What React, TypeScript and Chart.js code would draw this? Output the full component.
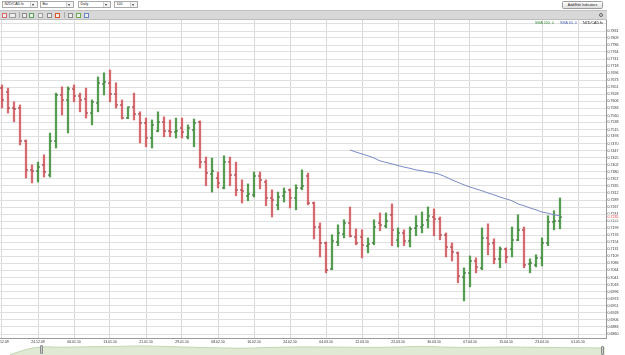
import React, { useEffect, useRef } from "react";
import { Chart, registerables } from "chart.js";
Chart.register(...registerables);

// ---------------- DATA ----------------
const opens = [
  0.7648, 0.7636, 0.7584, 0.7584, 0.7479, 0.7386, 0.7383, 0.7402, 0.7370, 0.7479,
  0.7626, 0.7610, 0.7645, 0.7623, 0.7613, 0.7568, 0.7600, 0.7661, 0.7665, 0.7629,
  0.7594, 0.7552, 0.7588, 0.7565, 0.7536, 0.7488, 0.7511, 0.7540, 0.7511, 0.7508,
  0.7520, 0.7492, 0.7514, 0.7540, 0.7411, 0.7373, 0.7360, 0.7328, 0.7411, 0.7370,
  0.7322, 0.7303, 0.7306, 0.7367, 0.7347, 0.7296, 0.7274, 0.7303, 0.7322, 0.7296,
  0.7328, 0.7367, 0.7280, 0.7203, 0.7152, 0.7069, 0.7155, 0.7181, 0.7216, 0.7171,
  0.7171, 0.7143, 0.7152, 0.7216, 0.7207, 0.7242, 0.7162, 0.7184, 0.7159, 0.7200,
  0.7203, 0.7226, 0.7235, 0.7229, 0.7178, 0.7139, 0.7120, 0.7043, 0.7056, 0.7094,
  0.7072, 0.7168, 0.7152, 0.7101, 0.7133, 0.7133, 0.7162, 0.7194, 0.7085, 0.7082,
  0.7104, 0.7152, 0.7219, 0.7223,
];
const highs = [
  0.7658, 0.7648, 0.7604, 0.7594, 0.7482, 0.7402, 0.7411, 0.7434, 0.7504, 0.7632,
  0.7652, 0.7652, 0.7658, 0.7632, 0.7648, 0.7610, 0.7684, 0.7697, 0.7706, 0.7665,
  0.7610, 0.7588, 0.7632, 0.7572, 0.7552, 0.7546, 0.7572, 0.7556, 0.7546, 0.7552,
  0.7552, 0.7530, 0.7549, 0.7543, 0.7427, 0.7424, 0.7379, 0.7431, 0.7427, 0.7411,
  0.7354, 0.7341, 0.7379, 0.7379, 0.7354, 0.7322, 0.7315, 0.7328, 0.7325, 0.7338,
  0.7386, 0.7376, 0.7283, 0.7216, 0.7155, 0.7178, 0.7210, 0.7226, 0.7267, 0.7197,
  0.7194, 0.7168, 0.7226, 0.7248, 0.7248, 0.7277, 0.7200, 0.7194, 0.7203, 0.7239,
  0.7251, 0.7267, 0.7261, 0.7235, 0.7184, 0.7152, 0.7123, 0.7072, 0.7110, 0.7104,
  0.7200, 0.7213, 0.7165, 0.7139, 0.7136, 0.7203, 0.7242, 0.7203, 0.7101, 0.7114,
  0.7168, 0.7239, 0.7255, 0.7296,
];
const lows = [
  0.7584, 0.7568, 0.7540, 0.7466, 0.7360, 0.7344, 0.7347, 0.7363, 0.7363, 0.7456,
  0.7562, 0.7504, 0.7604, 0.7572, 0.7552, 0.7530, 0.7572, 0.7626, 0.7604, 0.7584,
  0.7549, 0.7550, 0.7546, 0.7472, 0.7460, 0.7456, 0.7508, 0.7492, 0.7492, 0.7488,
  0.7488, 0.7485, 0.7460, 0.7392, 0.7335, 0.7315, 0.7328, 0.7325, 0.7335, 0.7303,
  0.7280, 0.7287, 0.7299, 0.7325, 0.7271, 0.7235, 0.7258, 0.7283, 0.7264, 0.7258,
  0.7322, 0.7274, 0.7165, 0.7107, 0.7056, 0.7066, 0.7143, 0.7168, 0.7171, 0.7146,
  0.7104, 0.7120, 0.7146, 0.7191, 0.7200, 0.7143, 0.7139, 0.7143, 0.7139, 0.7175,
  0.7184, 0.7200, 0.7175, 0.7162, 0.7107, 0.7094, 0.7024, 0.6966, 0.7011, 0.7056,
  0.7066, 0.7114, 0.7085, 0.7072, 0.7088, 0.7107, 0.7159, 0.7072, 0.7056, 0.7075,
  0.7078, 0.7143, 0.7194, 0.7197,
];
const closes = [
  0.7610, 0.7584, 0.7581, 0.7479, 0.7386, 0.7383, 0.7395, 0.7379, 0.7479, 0.7626,
  0.7610, 0.7645, 0.7623, 0.7610, 0.7568, 0.7604, 0.7665, 0.7668, 0.7629, 0.7594,
  0.7552, 0.7588, 0.7565, 0.7536, 0.7488, 0.7530, 0.7540, 0.7511, 0.7508, 0.7511,
  0.7508, 0.7520, 0.7536, 0.7411, 0.7376, 0.7383, 0.7344, 0.7411, 0.7370, 0.7322,
  0.7319, 0.7309, 0.7367, 0.7354, 0.7296, 0.7290, 0.7299, 0.7315, 0.7296, 0.7328,
  0.7335, 0.7280, 0.7203, 0.7152, 0.7066, 0.7159, 0.7184, 0.7216, 0.7175, 0.7152,
  0.7146, 0.7149, 0.7203, 0.7210, 0.7223, 0.7194, 0.7184, 0.7159, 0.7197, 0.7207,
  0.7210, 0.7239, 0.7229, 0.7178, 0.7139, 0.7123, 0.7046, 0.7056, 0.7094, 0.7075,
  0.7168, 0.7149, 0.7101, 0.7133, 0.7107, 0.7162, 0.7194, 0.7082, 0.7088, 0.7104,
  0.7152, 0.7219, 0.7223, 0.7235,
];
// SMA 60 line, starting at bar index smaStart
const smaStart = 58;
const sma60 = [
  0.7450, 0.7443, 0.7437, 0.7431, 0.7424, 0.7415, 0.7410, 0.7405, 0.7400, 0.7395,
  0.7391, 0.7386, 0.7383, 0.7379, 0.7376, 0.7371, 0.7363, 0.7354, 0.7346, 0.7338,
  0.7331, 0.7325, 0.7319, 0.7312, 0.7306, 0.7299, 0.7293, 0.7287, 0.7277, 0.7271,
  0.7264, 0.7258, 0.7251, 0.7247, 0.7242, 0.7239,
];
// date labels, one every `labelEvery` bars starting at bar 0
const labelEvery = 6;
const dateLabels = [
  "16.12.09", "24.12.09", "06.01.10", "13.01.10", "21.01.10", "29.01.10", "08.02.10",
  "16.02.10", "24.02.10", "04.03.10", "12.03.10", "22.03.10", "30.03.10", "07.04.10",
  "15.04.10", "23.04.10", "01.05.10",
];
const yTickValues = [
  0.7854, 0.7831, 0.7809, 0.7786, 0.7764, 0.7741, 0.7718, 0.7696, 0.7673, 0.7651, 0.7628,
  0.7606, 0.7583, 0.7560, 0.7538, 0.7515, 0.7493, 0.7470, 0.7447, 0.7425, 0.7402,
  0.7380, 0.7357, 0.7335, 0.7312, 0.7289, 0.7267, 0.7244, 0.7222, 0.7199, 0.7176,
  0.7154, 0.7131, 0.7109, 0.7086, 0.7064, 0.7041, 0.7018, 0.6996, 0.6973, 0.6951,
  0.6928, 0.6906, 0.6883, 0.6860,
];
const yTickLabels = yTickValues.map((v, i) => (i === 0 ? "" : v.toFixed(4)));
const navigatorValues = [
  0.5, 7.5, 7.8, 8.2, 8.5, 9, 8.5, 7.8, 7.2, 6.8, 7.5, 8, 8, 7.8, 7.6, 8, 8.5, 7.8,
  7.6, 8, 7.8, 7.5, 7.2, 7,
];

const Y_MIN = 0.68472;
const Y_MAX = 0.78663;
const X_MIN = -1 / 3;
const X_MAX = 100 + 2 / 3;

const UP = "rgba(58,140,50,0.85)";
const DOWN = "rgba(205,70,76,0.8)";
const UP_TICK = "#245a22";
const DOWN_TICK = "#8a2226";
const FONT = "'Liberation Sans', Arial, sans-serif";

const ohlcPlugin = {
  id: "ohlcTicks",
  afterDatasetsDraw(chart: any) {
    const { ctx } = chart;
    const x = chart.scales.x;
    const y = chart.scales.y;
    ctx.save();
    closes.forEach((c, i) => {
      const px = Math.round(x.getPixelForValue(i));
      const up = c >= opens[i];
      ctx.fillStyle = up ? UP_TICK : DOWN_TICK;
      const yo = Math.round(y.getPixelForValue(opens[i]));
      const yc = Math.round(y.getPixelForValue(c));
      ctx.fillRect(px - 2, yo - 0.5, 1.5, 1);
      ctx.fillRect(px + 0.5, yc - 0.5, 1.5, 1);
    });
    ctx.restore();
  },
  afterDraw(chart: any) {
    const { ctx, chartArea } = chart;
    const y = chart.scales.y;
    ctx.save();
    // legend
    ctx.font = `3.6px ${FONT}`;
    ctx.textBaseline = "middle";
    ctx.textAlign = "left";
    ctx.fillStyle = "#3a8a3a";
    ctx.fillText("SMA 200, 0", 535, chartArea.top + 2.5);
    ctx.fillStyle = "#4d63b0";
    ctx.fillText("SMA 60, 0", 560, chartArea.top + 2.5);
    ctx.fillStyle = "#222";
    ctx.fillText("NZD/CAD.fx", 583, chartArea.top + 2.5);
    // last price label
    const last = closes[closes.length - 1];
    const py = y.getPixelForValue(last);
    ctx.fillStyle = "#fff";
    ctx.fillRect(y.left + 1, py - 2.5, 18, 5);
    ctx.fillStyle = "#e0353a";
    ctx.fillText(last.toFixed(4), y.left + 1.5, py);
    ctx.restore();
  },
};

function Select({ left, width, text }: { left: number; width: number; text: string }) {
  return (
    <div
      style={{
        position: "absolute",
        left,
        top: 1,
        width,
        height: 7,
        border: "1px solid #a9a9a9",
        boxSizing: "border-box",
        background: "#fff",
        fontSize: 3.5,
        lineHeight: "5px",
        fontFamily: FONT,
        color: "#222",
        overflow: "hidden",
      }}
    >
      <span style={{ position: "absolute", left: 1.5, top: 0, whiteSpace: "nowrap" }}>{text}</span>
      <div
        style={{
          position: "absolute",
          right: 0,
          top: 0,
          width: 6,
          height: 5,
          borderLeft: "1px solid #cfcfcf",
          background: "#f4f4f4",
        }}
      >
        <div
          style={{
            position: "absolute",
            left: 1.2,
            top: 1.5,
            width: 0,
            height: 0,
            borderTop: "2px solid #333",
            borderLeft: "1.5px solid transparent",
            borderRight: "1.5px solid transparent",
          }}
        />
      </div>
    </div>
  );
}

const icons = [
  { l: 2, c: "#d46a6a" },
  { l: 9, c: "#9a9a9a", w: 7 },
  { l: 22, c: "#8c8c8c" },
  { l: 29, c: "#5aa05a" },
  { l: 38, c: "#a0a0a0" },
  { l: 47, c: "#8a8a8a" },
  { l: 55, c: "#d9542b" },
  { l: 68, c: "#8a8a8a" },
  { l: 76, c: "#6cab4b" },
  { l: 84, c: "#6a84c8" },
];

export default function App() {
  const mainRef = useRef<HTMLCanvasElement>(null);
  const navRef = useRef<HTMLCanvasElement>(null);

  useEffect(() => {
    const idx = closes.map((_, i) => i);
    const rangeData = idx.map((i) => ({ x: i, y: [lows[i], highs[i]] }));
    const colors = idx.map((i) => (closes[i] >= opens[i] ? UP : DOWN));
    const smaData = sma60.map((v, k) => ({ x: smaStart + k, y: v }));

    const chart = new Chart(mainRef.current!, {
      type: "bar",
      data: {
        datasets: [
          {
            type: "line",
            data: smaData as any,
            borderColor: "#7b8ac4",
            borderWidth: 1,
            pointRadius: 0,
            tension: 0.4,
            fill: false,
            order: 1,
          } as any,
          {
            type: "bar",
            data: rangeData as any,
            backgroundColor: colors,
            borderWidth: 0,
            barThickness: 1.6,
            grouped: false,
            order: 2,
          } as any,
        ],
      },
      options: {
        animation: false,
        responsive: false,
        events: [],
        layout: { padding: 0, autoPadding: false } as any,
        plugins: { legend: { display: false }, tooltip: { enabled: false } },
        scales: {
          x: {
            type: "linear",
            min: X_MIN,
            max: X_MAX,
            offset: false,
            afterBuildTicks: (s: any) => {
              s.ticks = dateLabels.map((_, k) => ({ value: k * labelEvery }));
            },
            afterFit: (s: any) => {
              s.height = 17;
              s.paddingLeft = 0;
              s.paddingRight = 0;
            },
            ticks: {
              autoSkip: false,
              maxRotation: 0,
              minRotation: 0,
              padding: 1.5,
              color: "#333",
              font: { size: 3.5, family: FONT },
              callback: (v: any) => dateLabels[Math.round(Number(v) / labelEvery)] ?? "",
            },
            grid: { color: "#d9d9d9", lineWidth: 1, drawTicks: false, offset: false },
            border: { display: true, color: "#9a9a9a" },
          } as any,
          y: {
            position: "right",
            min: Y_MIN,
            max: Y_MAX,
            afterBuildTicks: (s: any) => {
              s.ticks = yTickValues.map((v) => ({ value: v }));
            },
            afterFit: (s: any) => {
              s.width = 19;
              s.paddingTop = 0;
              s.paddingBottom = 0;
            },
            ticks: {
              autoSkip: false,
              padding: 1.5,
              color: "#333",
              font: { size: 3.6, family: FONT, lineHeight: 1 },
              callback: (_v: any, i: number) => yTickLabels[i] ?? "",
            },
            grid: { color: "#e0e0e0", lineWidth: 1, drawTicks: false },
            border: { display: true, color: "#9a9a9a" },
          } as any,
        },
      },
      plugins: [ohlcPlugin],
    });

    const nav = new Chart(navRef.current!, {
      type: "line",
      data: {
        labels: navigatorValues.map((_, i) => String(i)),
        datasets: [
          {
            data: navigatorValues,
            borderColor: "#c3d7b0",
            backgroundColor: "#dfe9d3",
            borderWidth: 1,
            pointRadius: 0,
            tension: 0.4,
            fill: "origin",
          },
        ],
      },
      options: {
        animation: false,
        responsive: false,
        events: [],
        layout: { padding: { left: 10, right: 20, top: 0, bottom: 0 }, autoPadding: false } as any,
        plugins: { legend: { display: false }, tooltip: { enabled: false } },
        scales: {
          x: { display: false, offset: false },
          y: { display: false, min: 0, max: 11 },
        },
      },
    });

    return () => {
      chart.destroy();
      nav.destroy();
    };
  }, []);

  return (
    <div
      style={{
        position: "fixed",
        left: 0,
        top: 0,
        width: 625,
        height: 355,
        background: "#fff",
        overflow: "hidden",
        fontFamily: FONT,
      }}
    >
      {/* row 1 */}
      <Select left={2} width={36} text="NZD/CAD.fx" />
      <Select left={40} width={34} text="Bar" />
      <Select left={78} width={33} text="Daily" />
      <Select left={114} width={24} text="100" />
      <div
        style={{
          position: "absolute",
          left: 562,
          top: 1,
          width: 41,
          height: 8,
          border: "1px solid #9a9a9a",
          borderRadius: 1.5,
          boxSizing: "border-box",
          background: "linear-gradient(#ffffff, #dedede)",
          fontSize: 3.5,
          lineHeight: "6px",
          textAlign: "center",
          color: "#222",
          whiteSpace: "nowrap",
        }}
      >
        Add/Edit Indicators
      </div>
      {/* row 2 toolbar */}
      <div
        style={{
          position: "absolute",
          left: 0,
          top: 10,
          width: 607,
          height: 10,
          background: "#d8d8d8",
          borderTop: "1px solid #c2c2c2",
          borderBottom: "1px solid #bcbcbc",
          boxSizing: "border-box",
        }}
      >
        {icons.map((ic, i) => (
          <div
            key={i}
            style={{
              position: "absolute",
              left: ic.l,
              top: 1.5,
              width: ic.w ?? 5,
              height: 5,
              background: "#eeeeee",
              border: `1px solid ${ic.c}`,
              boxSizing: "border-box",
            }}
          />
        ))}
        <div style={{ position: "absolute", left: 19, top: 1, width: 1, height: 6, background: "#aaa" }} />
        <div style={{ position: "absolute", left: 64, top: 1, width: 1, height: 6, background: "#aaa" }} />
        <div
          style={{
            position: "absolute",
            left: 599,
            top: 2,
            width: 4,
            height: 4,
            borderRadius: 3,
            border: "0.7px solid #666",
            boxSizing: "border-box",
          }}
        />
      </div>
      {/* main chart */}
      <canvas
        ref={mainRef}
        width={625}
        height={335}
        style={{ position: "absolute", left: 0, top: 20, width: 625, height: 335 }}
      />
      {/* navigator */}
      <canvas
        ref={navRef}
        width={625}
        height={11}
        style={{ position: "absolute", left: 0, top: 344, width: 625, height: 11 }}
      />
      <div
        style={{
          position: "absolute",
          left: 40,
          top: 345,
          width: 3,
          height: 9,
          background: "#d0d0d0",
          border: "1px solid #8a8a8a",
          borderRadius: 1,
          boxSizing: "border-box",
        }}
      />
      <div
        style={{
          position: "absolute",
          left: 601,
          top: 346,
          width: 3,
          height: 9,
          background: "#d0d0d0",
          border: "1px solid #8a8a8a",
          borderRadius: 1,
          boxSizing: "border-box",
        }}
      />
    </div>
  );
}
